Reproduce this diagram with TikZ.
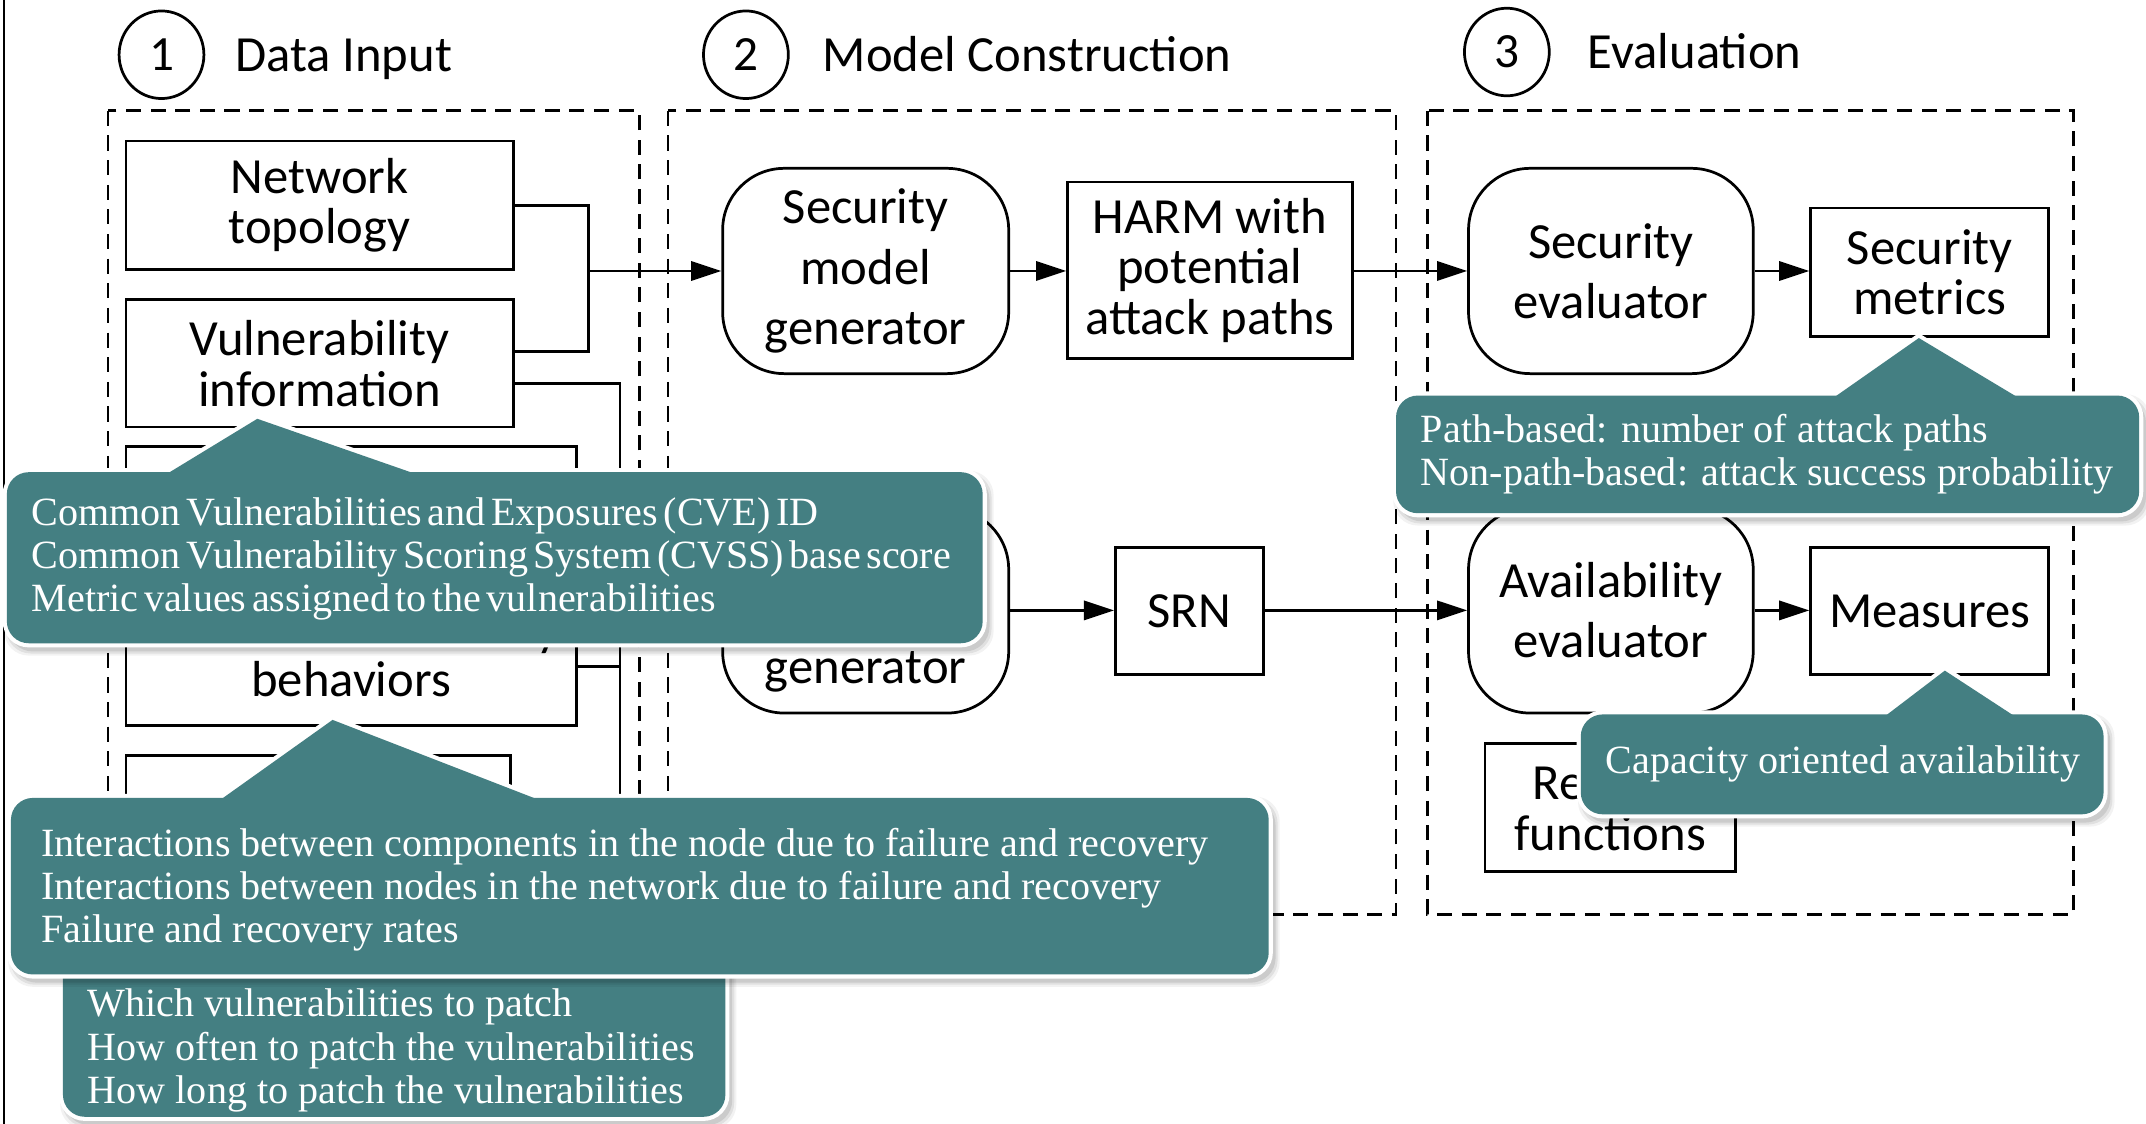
\documentclass[tikz,border=0pt]{standalone}
\usepackage{fontspec}
\setmainfont{Carlito}
\newfontfamily\notefont{Liberation Serif}
\newcommand\narrowspaces{\spaceskip=4pt plus 1pt minus 1pt\relax}
\usetikzlibrary{arrows.meta,calc,shapes.geometric}
\definecolor{noteteal}{RGB}{68,127,130}
\tikzset{
  box/.style={draw, line width=2pt, fill=white, inner sep=0pt, align=center,
    font=\fontsize{37}{37}\selectfont},
  proc/.style={box, rounded corners=45pt, font=\fontsize{37}{44}\selectfont},
  frame/.style={draw, dash pattern=on 11pt off 7pt, line width=2pt},
  wire/.style={line width=2pt},
  flow/.style={wire, -{Triangle[length=22pt,width=14pt]}},
  stage/.style={draw, ellipse, line width=2pt, minimum width=62pt, minimum height=64pt,
    inner sep=0pt, font=\fontsize{36}{36}\selectfont},
  stagetitle/.style={anchor=base west, inner sep=0pt, font=\fontsize{37}{37}\selectfont},
  plain/.style={anchor=base, inner sep=0pt, font=\fontsize{37}{37}\selectfont},
  notetext/.style={text=white, anchor=base west, inner sep=0pt,
    font=\notefont\fontsize{29.3}{31.5}\selectfont},
  tightnote/.style={notetext,
    font=\notefont\fontsize{29.3}{31.5}\selectfont\narrowspaces},
}
% teal call-out: #1 left, #2 top, #3 right, #4 bottom,
% #5 pointer base left x, #6/#7 pointer tip, #8 pointer base right x
\newcommand\notebox[8]{%
  \foreach \s/\o in {5/0.05,3.5/0.07,2/0.09}{
    \fill[black, opacity=\o, shift={(3,4)}, rounded corners=18pt]
      (#1-\s,#2-\s) rectangle (#3+\s,#4+\s);
  }
  \draw[white, line width=6pt, rounded corners=16pt] (#1,#2) rectangle (#3,#4);
  \draw[white, line width=6pt, line join=miter]
    ($(#6,#7)!1.4!(#5,#2)$) -- (#6,#7) -- ($(#6,#7)!1.4!(#8,#2)$);
  \fill[noteteal, rounded corners=16pt] (#1,#2) rectangle (#3,#4);
  \fill[noteteal] ($(#6,#7)!1.4!(#5,#2)$) -- (#6,#7) -- ($(#6,#7)!1.4!(#8,#2)$) -- cycle;
}
\begin{document}
\begin{tikzpicture}[x=1pt,y=-1pt]
\useasboundingbox (0,0) rectangle (1568,821);
\fill[white] (0,0) rectangle (1568,821);
\draw[line width=1.5pt] (3,0) -- (3,821);

% stage headings
\node[stage] (s1) at (118,40) {1};
\node[stagetitle] (t1) at (172,52) {Data Input};
\node[stage] (s2) at (545,40) {2};
\node[stagetitle] (t2) at (601,52) {Model Construction};
\node[stage] (s3) at (1101,38) {3};
\node[stagetitle] (t3) at (1160,50) {Evaluation};

% stage frames
\draw[frame] (79,81) rectangle (467,668);
\draw[frame] (488,81) rectangle (1020,668);
\draw[frame] (1043,81) rectangle (1515,668);

% data input
\node[box, minimum width=283, minimum height=94] (net) at (233.5,150) {Network\\topology};
\node[box, minimum width=283, minimum height=93] (vul) at (233.5,265.5) {Vulnerability\\information};
\node[box, minimum width=329, minimum height=204] (beh) at (256.5,428) {};
\node[plain] (beh1) at (256.5,472) {Failure and recovery};
\node[plain] (beh2) at (256.5,509) {behaviors};
\node[box, minimum width=281, minimum height=94] (pat) at (232.5,599) {};

% model construction
\node[proc, minimum width=209, minimum height=150] (smg) at (632.5,198) {Security\\model\\generator};
\node[box, minimum width=208, minimum height=129] (harm) at (884,197.5) {HARM with\\potential\\attack paths};
\node[proc, minimum width=209, minimum height=150] (amg) at (632.5,446) {Availability\\model\\generator};
\node[box, minimum width=108, minimum height=93] (srn) at (869,446.5) {SRN};

% evaluation
\node[proc, minimum width=208, minimum height=150] (sev) at (1177,198) {Security\\evaluator};
\node[box, minimum width=174, minimum height=94] (smet) at (1410,199) {Security\\metrics};
\node[proc, minimum width=208, minimum height=150] (aev) at (1177,446) {Availability\\evaluator};
\node[box, minimum width=174, minimum height=93] (meas) at (1410,446.5) {Measures};
\node[box, minimum width=183, minimum height=94] (rew) at (1176.5,590) {Reward\\functions};

% input buses
\coordinate (j1) at (430,198);
\coordinate (j2) at (453,446);
\draw[wire] (net.east) -| (j1) |- ([yshift=8.5pt]vul.east);
\draw[flow] (j1) -- (smg.west);
\draw[wire] ([yshift=-14.5pt]vul.east) -| (pat.east -| j2) -- (pat.east);
\draw[wire] ([yshift=-59pt]beh.east) -- ([yshift=-59pt]beh.east -| j2);
\draw[flow] (j2) -- (amg.west);

% flows
\draw[flow] (smg.east) -- (smg.east -| harm.west);
\draw[flow] (harm.east |- sev.west) -- (sev.west);
\draw[flow] (sev.east) -- (sev.east -| smet.west);
\draw[flow] (amg.east) -- (amg.east -| srn.west);
\draw[flow] (srn.east |- aev.west) -- (aev.west);
\draw[flow] (aev.east) -- (aev.east -| meas.west);

% call-outs
\notebox{46}{690}{530}{816}{150}{200}{660}{300}
\node[notetext] (c1) at (64,743) {Which vulnerabilities to patch};
\node[notetext] (c2) at (64,774.5) {How often to patch the vulnerabilities};
\node[notetext] (c3) at (64,806) {How long to patch the vulnerabilities};

\notebox{8}{583}{927}{712}{163}{243}{526}{390}
\node[notetext] (b1) at (30,626) {Interactions between components in the node due to failure and recovery};
\node[notetext] (b2) at (30,657.5) {Interactions between nodes in the network due to failure and recovery};
\node[notetext] (b3) at (30,689) {Failure and recovery rates};

\notebox{5}{345}{718}{470}{124}{188}{306}{300}
\node[tightnote] (a1) at (23,384) {Common Vulnerabilities and Exposures (CVE) ID};
\node[tightnote] (a2) at (23,415.5) {Common Vulnerability Scoring System (CVSS) base score};
\node[tightnote] (a3) at (23,447) {Metric values assigned to the vulnerabilities};

\notebox{1020}{289}{1563}{375}{1342}{1402}{247}{1472}
\node[notetext] (d1) at (1038,323) {Path-based: number of attack paths};
\node[notetext] (d2) at (1038,355) {Non-path-based: attack success probability};

\notebox{1155}{522}{1537}{595}{1379}{1421}{490}{1470}
\node[notetext] (e1) at (1173,565) {Capacity oriented availability};
\end{tikzpicture}
\end{document}
